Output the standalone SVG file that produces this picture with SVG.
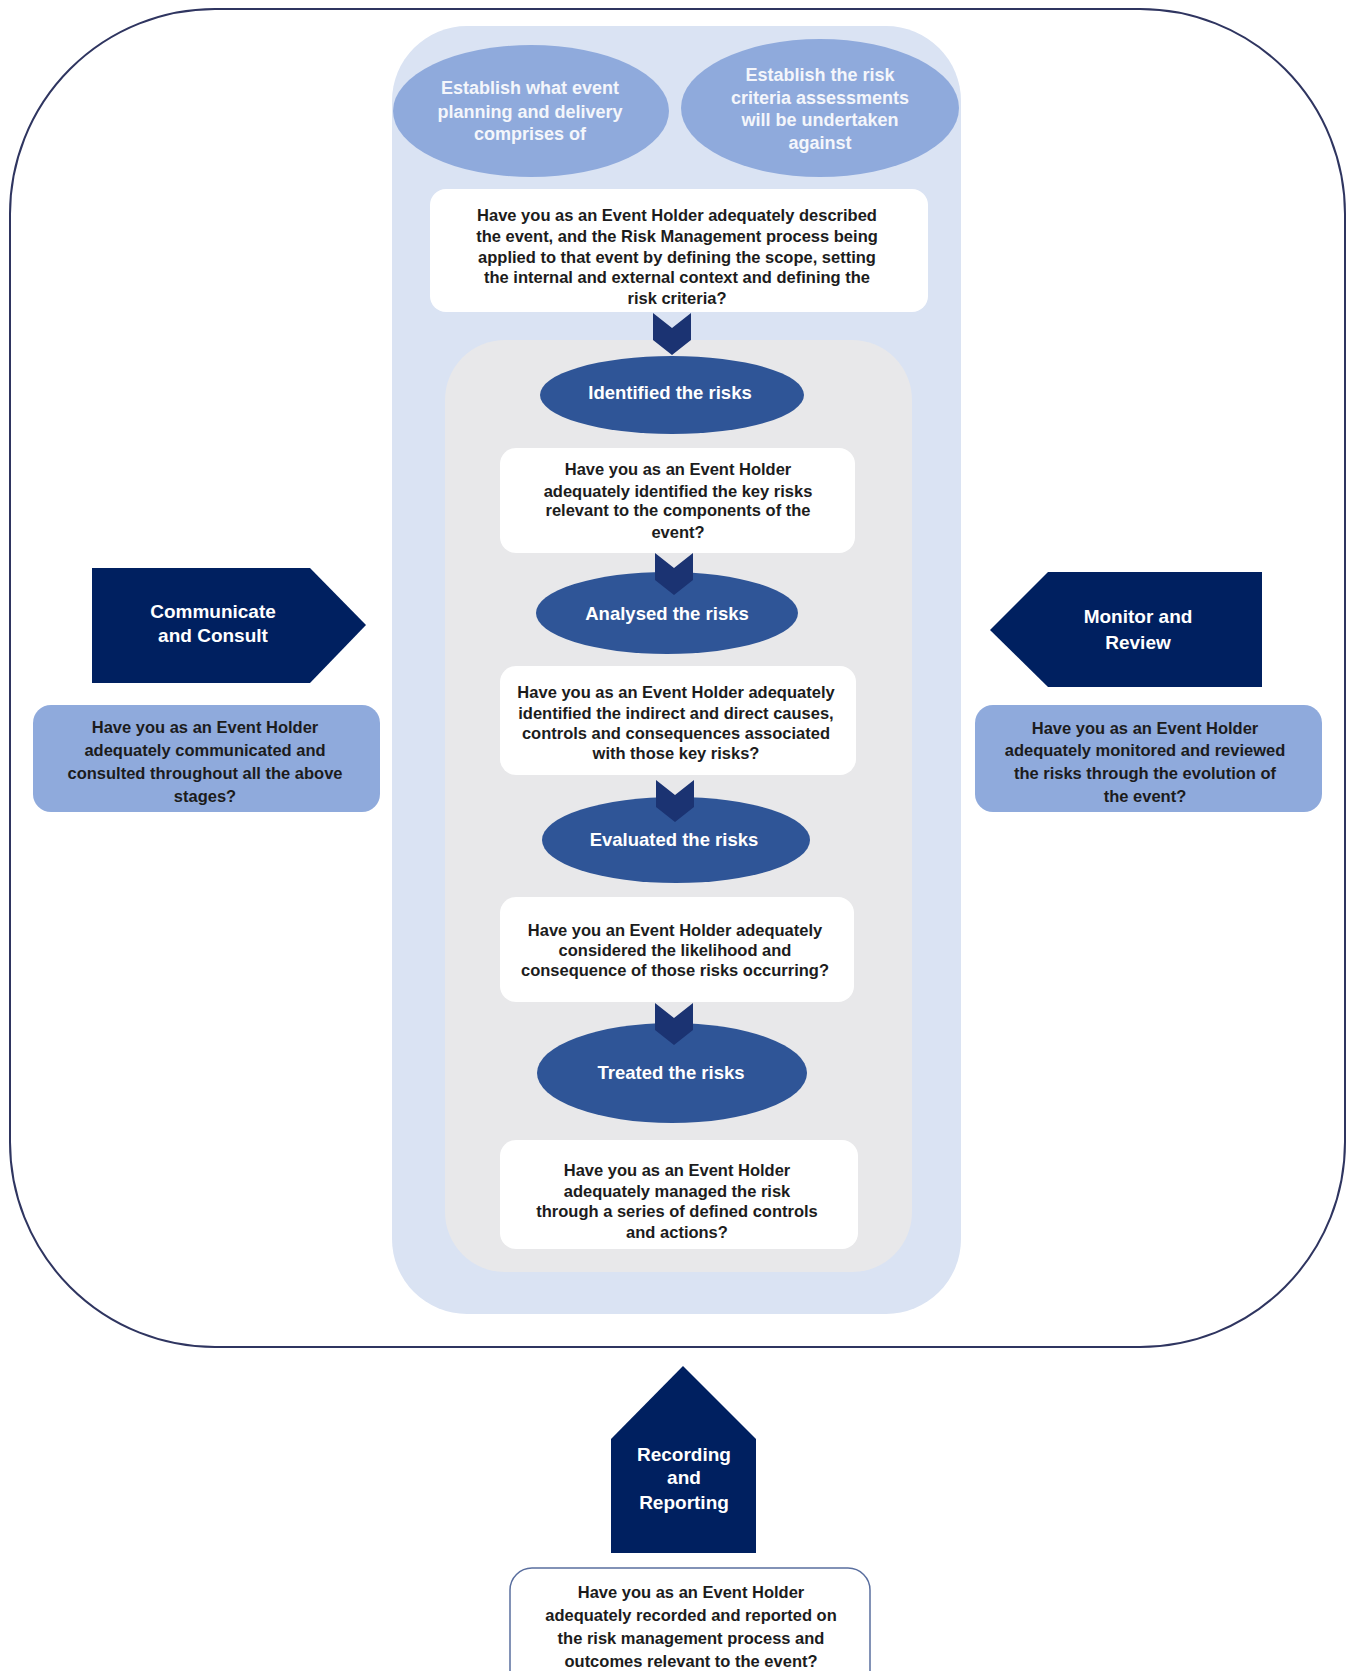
<svg xmlns="http://www.w3.org/2000/svg" width="1350" height="1671" viewBox="0 0 1350 1671">
<defs>
<style>
.t{font-family:"Liberation Sans",Arial,sans-serif;font-weight:bold;text-anchor:middle}
.dk{fill:#1c1c1c;font-size:16.5px}
.wt{fill:#ffffff}
.lbl{font-size:18.5px}
.top{font-size:18px;fill:#f4f6fb}
.pent{font-size:19px}
.wbox{fill:#ffffff}
.mid{fill:#2f5597}
.lt{fill:#8faadc}
.navy{fill:#002060}
.chev{fill:#1b3372}
</style>
</defs>
<rect x="0" y="0" width="1350" height="1671" fill="#ffffff"/>
<g id="outer-frame">
<rect x="10" y="9" width="1335" height="1338" rx="205" ry="205" fill="none" stroke="#2f3560" stroke-width="2"/>
</g>
<g id="central-panel">
<rect x="392" y="26" width="569" height="1288" rx="75" ry="75" fill="#dae3f3"/>
<rect x="445" y="340" width="467" height="932" rx="60" ry="60" fill="#e8e8ea"/>
</g>
<g id="establish-event">
<ellipse class="lt" cx="531" cy="111" rx="138" ry="66"/>
<text class="t top" x="530" y="94">Establish what event</text>
<text class="t top" x="530" y="118">planning and delivery</text>
<text class="t top" x="530" y="140">comprises of</text>
</g>
<g id="establish-criteria">
<ellipse class="lt" cx="820" cy="108" rx="139" ry="69"/>
<text class="t top" x="820" y="81">Establish the risk</text>
<text class="t top" x="820" y="104">criteria assessments</text>
<text class="t top" x="820" y="126">will be undertaken</text>
<text class="t top" x="820" y="149">against</text>
</g>
<g id="q-context">
<rect class="wbox" x="430" y="189" width="498" height="123" rx="16" ry="16"/>
<text class="t dk" x="677" y="221">Have you as an Event Holder adequately described</text>
<text class="t dk" x="677" y="242">the event, and the Risk Management process being</text>
<text class="t dk" x="677" y="263">applied to that event by defining the scope, setting</text>
<text class="t dk" x="677" y="283">the internal and external context and defining the</text>
<text class="t dk" x="677" y="304">risk criteria?</text>
</g>
<g id="identified">
<ellipse class="mid" cx="672" cy="395" rx="132" ry="39"/>
<text class="t wt lbl" x="670" y="399">Identified the risks</text>
</g>
<g id="q-identified">
<rect class="wbox" x="500" y="448" width="355" height="105" rx="16" ry="16"/>
<text class="t dk" x="678" y="475">Have you as an Event Holder</text>
<text class="t dk" x="678" y="497">adequately identified the key risks</text>
<text class="t dk" x="678" y="516">relevant to the components of the</text>
<text class="t dk" x="678" y="538">event?</text>
</g>
<g id="analysed">
<ellipse class="mid" cx="667" cy="613" rx="131" ry="41"/>
<text class="t wt lbl" x="667" y="620">Analysed the risks</text>
</g>
<g id="q-analysed">
<rect class="wbox" x="500" y="666" width="356" height="109" rx="16" ry="16"/>
<text class="t dk" x="676" y="698">Have you as an Event Holder adequately</text>
<text class="t dk" x="676" y="719">identified the indirect and direct causes,</text>
<text class="t dk" x="676" y="739">controls and consequences associated</text>
<text class="t dk" x="676" y="759">with those key risks?</text>
</g>
<g id="evaluated">
<ellipse class="mid" cx="676" cy="840" rx="134" ry="43"/>
<text class="t wt lbl" x="674" y="846">Evaluated the risks</text>
</g>
<g id="q-evaluated">
<rect class="wbox" x="500" y="897" width="354" height="105" rx="16" ry="16"/>
<text class="t dk" x="675" y="936">Have you an Event Holder adequately</text>
<text class="t dk" x="675" y="956">considered the likelihood and</text>
<text class="t dk" x="675" y="976">consequence of those risks occurring?</text>
</g>
<g id="treated">
<ellipse class="mid" cx="672" cy="1073" rx="135" ry="50"/>
<text class="t wt lbl" x="671" y="1079">Treated the risks</text>
</g>
<g id="q-treated">
<rect class="wbox" x="500" y="1140" width="358" height="109" rx="16" ry="16"/>
<text class="t dk" x="677" y="1176">Have you as an Event Holder</text>
<text class="t dk" x="677" y="1197">adequately managed the risk</text>
<text class="t dk" x="677" y="1217">through a series of defined controls</text>
<text class="t dk" x="677" y="1238">and actions?</text>
</g>
<g id="connectors">
<polygon class="chev" points="653,313 672,328 691,313 691,340 672,355 653,340"/>
<polygon class="chev" points="655,553 674,568 693,553 693,580 674,595 655,580"/>
<polygon class="chev" points="656,780 675,795 694,780 694,807 675,822 656,807"/>
<polygon class="chev" points="655,1003 674,1018 693,1003 693,1030 674,1045 655,1030"/>
</g>
<g id="communicate">
<polygon class="navy" points="92,568 310,568 366,625 310,683 92,683"/>
<text class="t wt pent" x="213" y="618">Communicate</text>
<text class="t wt pent" x="213" y="642">and Consult</text>
</g>
<g id="q-communicate">
<rect class="lt" x="33" y="705" width="347" height="107" rx="18" ry="18"/>
<text class="t dk" x="205" y="733">Have you as an Event Holder</text>
<text class="t dk" x="205" y="756">adequately communicated and</text>
<text class="t dk" x="205" y="779">consulted throughout all the above</text>
<text class="t dk" x="205" y="802">stages?</text>
</g>
<g id="monitor">
<polygon class="navy" points="990,630 1048,572 1262,572 1262,687 1048,687"/>
<text class="t wt pent" x="1138" y="623">Monitor and</text>
<text class="t wt pent" x="1138" y="649">Review</text>
</g>
<g id="q-monitor">
<rect class="lt" x="975" y="705" width="347" height="107" rx="18" ry="18"/>
<text class="t dk" x="1145" y="734">Have you as an Event Holder</text>
<text class="t dk" x="1145" y="756">adequately monitored and reviewed</text>
<text class="t dk" x="1145" y="779">the risks through the evolution of</text>
<text class="t dk" x="1145" y="802">the event?</text>
</g>
<g id="recording">
<polygon class="navy" points="683,1366 756,1439 756,1553 611,1553 611,1439"/>
<text class="t wt pent" x="684" y="1461">Recording</text>
<text class="t wt pent" x="684" y="1484">and</text>
<text class="t wt pent" x="684" y="1509">Reporting</text>
</g>
<g id="q-recording">
<rect x="510" y="1568" width="360" height="125" rx="22" ry="22" fill="#ffffff" stroke="#5a6f9f" stroke-width="1.5"/>
<text class="t dk" x="691" y="1598">Have you as an Event Holder</text>
<text class="t dk" x="691" y="1621">adequately recorded and reported on</text>
<text class="t dk" x="691" y="1644">the risk management process and</text>
<text class="t dk" x="691" y="1667">outcomes relevant to the event?</text>
</g>
</svg>
